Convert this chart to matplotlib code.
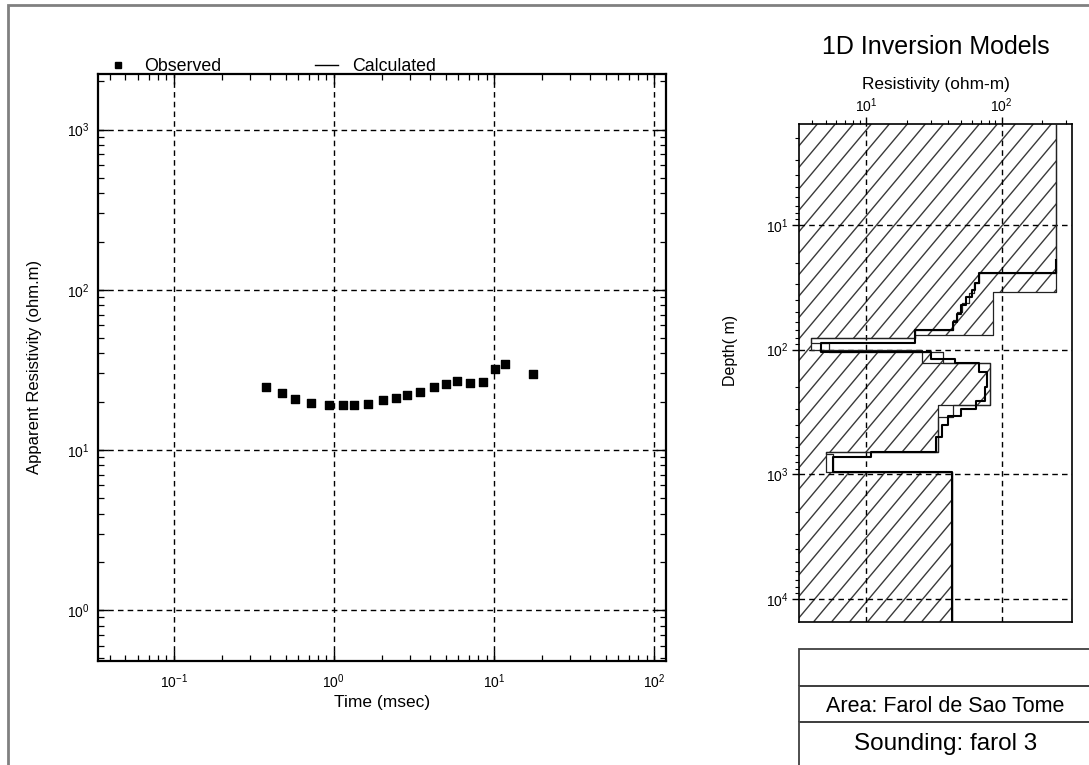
import matplotlib
matplotlib.use("Agg")
import matplotlib.pyplot as plt
import numpy as np
from matplotlib.lines import Line2D
from matplotlib.patches import Rectangle, Polygon
from matplotlib.collections import LineCollection
from matplotlib.ticker import LogLocator, NullFormatter

plt.rcParams.update({
    "font.family": ["Liberation Sans", "DejaVu Sans"],
    "mathtext.fontset": "custom",
    "mathtext.rm": "Liberation Sans",
    "mathtext.it": "Liberation Sans:italic",
})

# observed TEM sounding (time in msec, apparent resistivity in ohm.m)
time_ms = [0.375, 0.477, 0.573, 0.724, 0.931, 1.14, 1.33, 1.63, 2.03, 2.44,
           2.85, 3.46, 4.23, 5.03, 5.89, 7.11, 8.53, 10.2, 11.8, 17.5]
rho_app = [24.7, 22.6, 20.9, 19.6, 19.0, 19.1, 19.1, 19.4, 20.4, 21.0,
           21.9, 22.9, 24.6, 25.9, 27.1, 26.2, 26.7, 31.8, 34.6, 29.9]

# 1D models: layer bottom depth (m) and layer resistivity (ohm-m)
env_bottom = [34.3, 76.2, 81.1, 100.5, 104.0, 128.5, 277, 657, 951, 15200]
env_rho = [254, 87, 23, 3.9, 26, 37, 82, 34, 5.0, 42.8]

alt_bottom = [24.4, 29.2, 35, 42, 50, 58, 69.5, 81.1, 88.4, 103.7, 128.5,
              277, 344, 657, 690, 951, 15200]
alt_rho = [254, 68, 62, 57, 51, 47, 44, 23, 3.9, 5.3, 26,
           82, 44, 34, 5.0, 5.7, 42.8]

best_bottom = [24.4, 29.2, 33, 38, 44, 52, 60, 69.5, 88.4, 103.7, 118, 128.5,
               150, 200, 260, 300, 340, 400, 500, 657, 721, 951, 15200]
best_rho = [254, 68, 64, 60, 55, 50, 47, 44, 23, 4.6, 30, 45,
            68, 78, 75, 65, 50, 40, 36, 33, 10.9, 5.7, 42.8]

DEPTH_TOP = 1.55
RHO_LEFT = 3.2


def step_curve(bottoms, rhos, top):
    xs, ys = [], []
    d0 = top
    for b, r in zip(bottoms, rhos):
        xs += [r, r]
        ys += [d0, b]
        d0 = b
    return xs, ys


def set_log_ticks(ax):
    for axis in (ax.xaxis, ax.yaxis):
        axis.set_major_locator(LogLocator(base=10, numticks=10))
        axis.set_minor_locator(LogLocator(base=10, subs=range(2, 10), numticks=20))
        axis.set_minor_formatter(NullFormatter())


W, H = 1089, 765
fig = plt.figure(figsize=(W / 100, H / 100), dpi=100)

# ---- left panel: sounding curve ----
ax1 = fig.add_axes([0.0896, 0.1359, 0.5220, 0.7680])
ax1.set_xscale("log")
ax1.set_yscale("log")
ax1.scatter(time_ms, rho_app, marker="s", s=30, color="black", zorder=3)
ax1.set_xlim(0.0335, 119)
ax1.set_ylim(0.48, 2240)
set_log_ticks(ax1)
ax1.tick_params(which="both", direction="in", top=True, right=True, labelsize=10)
ax1.tick_params(which="major", length=7, width=1)
ax1.tick_params(which="minor", length=4, width=0.9)
ax1.tick_params(axis="x", pad=8)
ax1.tick_params(axis="y", pad=6)
ax1.grid(True, which="major", color="black", linestyle=(0, (4, 3)), linewidth=1)
for sp in ax1.spines.values():
    sp.set_linewidth(1.6)
ax1.set_xlabel("Time (msec)", fontsize=12.5)
ax1.set_ylabel("Apparent Resistivity (ohm.m)", fontsize=12)
ax1.xaxis.set_label_coords(0.5, -0.058)
ax1.yaxis.set_label_coords(-0.098, 0.5)

handles = [
    Line2D([], [], marker="s", markersize=4, color="black", linestyle="None"),
    Line2D([], [], color="black", linewidth=1),
]
ax1.legend(handles, ["Observed", "Calculated"], ncol=2, frameon=False,
           loc="lower left", bbox_to_anchor=(0.003, 0.985), borderaxespad=0,
           fontsize=12.8, handlelength=1.3, columnspacing=5.3, handletextpad=0.8)

# ---- right panel: 1D inversion models ----
ax2_rect = [0.7340, 0.1873, 0.2502, 0.6506]
ax2 = fig.add_axes(ax2_rect)
ax2.set_xscale("log")
ax2.set_yscale("log")
ax2.set_xlim(RHO_LEFT, 330)
ax2.set_ylim(15200, DEPTH_TOP)

ex, ey = step_curve(env_bottom, env_rho, DEPTH_TOP)
verts = [(RHO_LEFT, DEPTH_TOP)] + list(zip(ex, ey)) + [(RHO_LEFT, env_bottom[-1])]
hatch_area = Polygon(verts, closed=True, facecolor="none", edgecolor="none",
                     transform=ax2.transData)
ax2.add_patch(hatch_area)

# diagonal hatch lines (~50 deg, ~18 px apart), clipped to the model area
w_px, h_px = ax2_rect[2] * W, ax2_rect[3] * H
run = h_px / np.tan(np.radians(50))
starts = np.arange(-run, w_px, 18.0)
segs = [[(s / w_px, 0.0), ((s + run) / w_px, 1.0)] for s in starts]
hatch = LineCollection(segs, colors="#3a3a3a", linewidths=1.0,
                       transform=ax2.transAxes, zorder=1)
ax2.add_collection(hatch, autolim=False)
hatch.set_clip_path(hatch_area)

ax2.plot(ex, ey, color="#222222", linewidth=0.9, zorder=3)
alx, aly = step_curve(alt_bottom, alt_rho, DEPTH_TOP)
ax2.plot(alx, aly, color="#222222", linewidth=0.9, zorder=3)
bx, by = step_curve(best_bottom, best_rho, 19.0)
ax2.plot(bx, by, color="black", linewidth=1.5, zorder=4)

ax2.xaxis.tick_top()
set_log_ticks(ax2)
ax2.tick_params(which="both", direction="out", top=True, bottom=False,
                left=True, right=False, labelsize=10)
ax2.tick_params(which="major", length=5, width=1)
ax2.tick_params(which="minor", length=3, width=0.8)
ax2.tick_params(axis="x", pad=1.5)
ax2.tick_params(axis="y", pad=3)
ax2.grid(True, which="major", color="black", linestyle=(0, (4, 3)),
         linewidth=1, zorder=5)
ax2.set_axisbelow(False)
for sp in ax2.spines.values():
    sp.set_linewidth(1.2)
ax2.set_ylabel("Depth( m)", fontsize=11.5)
ax2.yaxis.set_label_coords(-0.225, 0.546)

fig.text(0.859, 1 - 46.5 / H, "1D Inversion Models", fontsize=18, ha="center",
         va="center")
fig.text(0.859, 1 - 85 / H, "Resistivity (ohm-m)", fontsize=12.4, ha="center",
         va="center")

# ---- info box (bottom right) ----
box_l = 0.734
for y0, y1 in [(0.103, 0.152), (0.0562, 0.103), (-0.05, 0.0562)]:
    fig.add_artist(Rectangle((box_l, y0), 0.4, y1 - y0, transform=fig.transFigure,
                             facecolor="none", edgecolor="#404040", linewidth=1.3))
fig.text(0.868, 1 - 706 / H, "Area: Farol de Sao Tome", fontsize=15.5,
         ha="center", va="center")
fig.text(0.868, 1 - 744 / H, "Sounding: farol 3", fontsize=17.5, ha="center",
         va="center")

# page frame
fig.add_artist(Rectangle((0.0073, -0.05), 1.1, 1.0435, transform=fig.transFigure,
                         facecolor="none", edgecolor="#808080", linewidth=2))

fig.savefig("out.png", dpi=100)
